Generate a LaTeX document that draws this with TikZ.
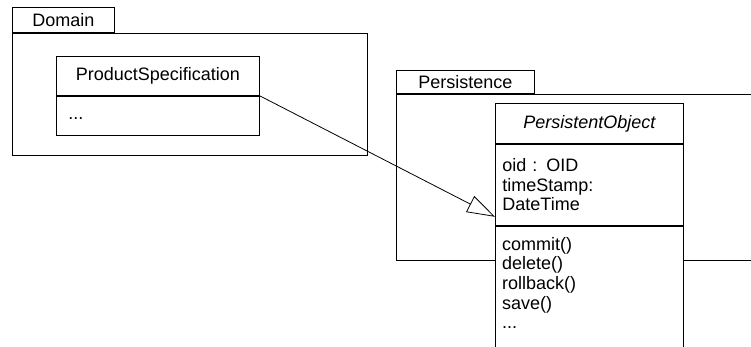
\documentclass[tikz,border=0pt]{standalone}
\usepackage{fontspec}
\setmainfont{Liberation Sans}
\usetikzlibrary{positioning,arrows.meta}
\newcommand{\umlfont}{\fontsize{18}{19.7}\selectfont}
\tikzset{
  umltab/.style={
    rectangle,
    draw=black,
    line width=0.9pt,
    anchor=north west,
    inner sep=0pt,
    font=\umlfont
  },
  umlpkg/.style={
    rectangle,
    draw=black,
    line width=0.9pt,
    anchor=north west,
    inner sep=0pt
  },
  umlpart/.style={
    rectangle,
    draw=black,
    fill=white,
    line width=0.9pt,
    anchor=north west,
    inner sep=0pt,
    font=\umlfont
  },
  umlarrow/.style={
    -{Triangle[open,length=28pt,width=18pt]},
    line width=0.8pt,
    draw=black
  }
}

\begin{document}
\begin{tikzpicture}[x=1pt,y=-1pt]
    \clip (0,0) rectangle (751,347);
    % Domain package
    \node (domtab) [umltab, minimum width=102pt, minimum height=25pt] at (12,7) {Domain};
    \node (dombody) [umlpkg, minimum width=355pt, minimum height=122pt] at (domtab.south west) {};
    \node (psname) [umlpart, minimum width=203pt, minimum height=39pt] at (56,56) {ProductSpecification};
    \node (psattr) [umlpart, minimum width=203pt, minimum height=39pt, inner xsep=12pt, text width=179pt, align=left] at (psname.south west) {\strut...};
    % Persistence package
    \node (pertab) [umltab, minimum width=138pt, minimum height=23pt] at (396,70) {Persistence};
    \node (perbody) [umlpkg, minimum width=370pt, minimum height=166pt] at (pertab.south west) {};
    \node (poname) [umlpart, minimum width=188pt, minimum height=40pt, font=\umlfont\itshape] at (495,103) {PersistentObject};
    \node (poattr) [umlpart, minimum width=188pt, minimum height=81pt, inner xsep=7pt, text width=174pt, align=left] at (poname.south west) {oid : OID\\timeStamp:\\DateTime};
    \node (poops) [umlpart, minimum width=188pt, minimum height=140pt] at (poattr.south west) {};
    \node (opstext) [anchor=north west, inner sep=0pt, align=left, font=\umlfont] at ([shift={(7pt,-11pt)}]poops.north west) {commit()\\delete()\\rollback()\\save()\\...};

    \draw[umlarrow] (psname.south east) -- ([yshift=9pt]poattr.south west);
  \end{tikzpicture}
\end{document}
